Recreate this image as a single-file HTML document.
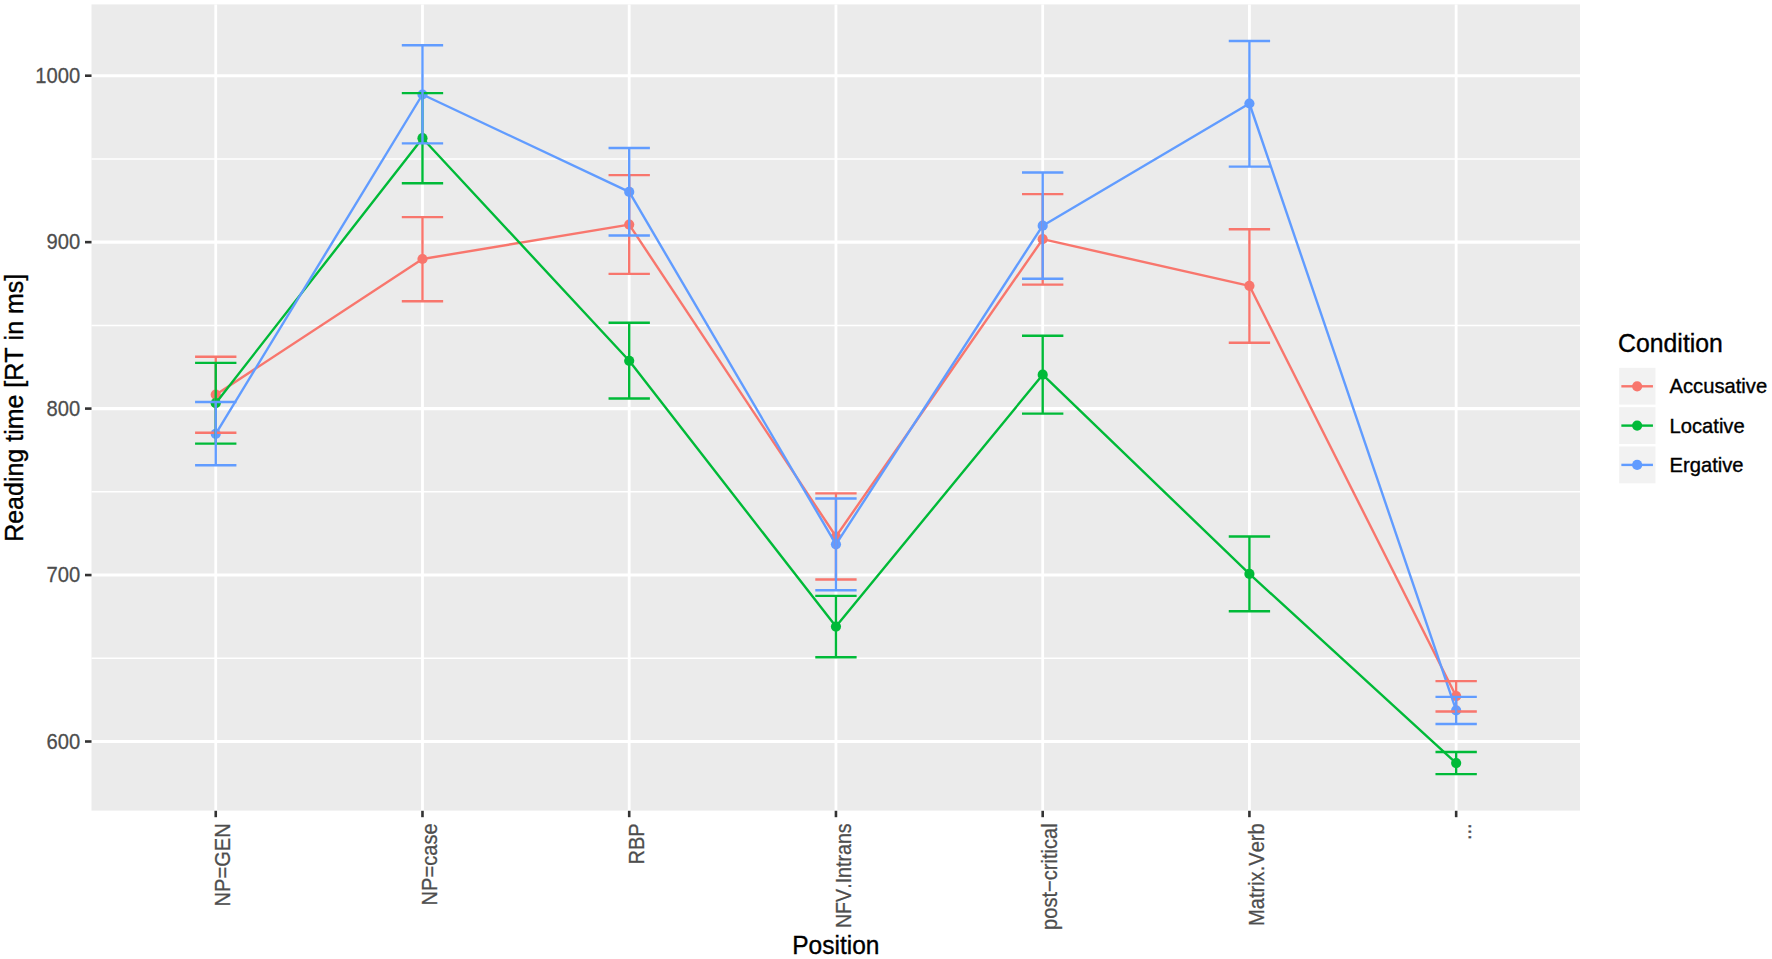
<!DOCTYPE html>
<html lang="en"><head><meta charset="utf-8"><title>Reading time by position</title>
<style>html,body{margin:0;padding:0;background:#fff;}svg{display:block;}text{font-family:"Liberation Sans",Arial,Helvetica,sans-serif;font-kerning:none;}</style></head><body>
<svg width="1772" height="959" viewBox="0 0 1772 959">
<rect x="0" y="0" width="1772" height="959" fill="#ffffff"/>
<rect x="91.5" y="4.4" width="1488.5" height="806.2" fill="#EBEBEB"/>
<g stroke="#ffffff" stroke-width="1.5" fill="none">
<line x1="91.5" x2="1580.0" y1="158.93" y2="158.93"/>
<line x1="91.5" x2="1580.0" y1="325.38" y2="325.38"/>
<line x1="91.5" x2="1580.0" y1="491.82" y2="491.82"/>
<line x1="91.5" x2="1580.0" y1="658.27" y2="658.27"/>
</g>
<g stroke="#ffffff" stroke-width="3.1" fill="none">
<line x1="91.5" x2="1580.0" y1="75.70" y2="75.70"/>
<line x1="91.5" x2="1580.0" y1="242.15" y2="242.15"/>
<line x1="91.5" x2="1580.0" y1="408.60" y2="408.60"/>
<line x1="91.5" x2="1580.0" y1="575.05" y2="575.05"/>
<line x1="91.5" x2="1580.0" y1="741.50" y2="741.50"/>
</g>
<g stroke="#ffffff" stroke-width="2.8" fill="none">
<line x1="215.74" x2="215.74" y1="4.4" y2="810.6"/>
<line x1="422.48" x2="422.48" y1="4.4" y2="810.6"/>
<line x1="629.21" x2="629.21" y1="4.4" y2="810.6"/>
<line x1="835.95" x2="835.95" y1="4.4" y2="810.6"/>
<line x1="1042.69" x2="1042.69" y1="4.4" y2="810.6"/>
<line x1="1249.42" x2="1249.42" y1="4.4" y2="810.6"/>
<line x1="1456.16" x2="1456.16" y1="4.4" y2="810.6"/>
</g>
<g fill="#F8766D">
<circle cx="215.74" cy="394.7" r="5.1"/>
<circle cx="422.48" cy="259.0" r="5.1"/>
<circle cx="629.21" cy="224.6" r="5.1"/>
<circle cx="835.95" cy="536.5" r="5.1"/>
<circle cx="1042.69" cy="239.2" r="5.1"/>
<circle cx="1249.42" cy="285.8" r="5.1"/>
<circle cx="1456.16" cy="696.2" r="5.1"/>
</g>
<g fill="#00BA38">
<circle cx="215.74" cy="403.2" r="5.1"/>
<circle cx="422.48" cy="138.2" r="5.1"/>
<circle cx="629.21" cy="360.8" r="5.1"/>
<circle cx="835.95" cy="626.6" r="5.1"/>
<circle cx="1042.69" cy="374.7" r="5.1"/>
<circle cx="1249.42" cy="573.9" r="5.1"/>
<circle cx="1456.16" cy="763.1" r="5.1"/>
</g>
<g fill="#619CFF">
<circle cx="215.74" cy="433.8" r="5.1"/>
<circle cx="422.48" cy="94.5" r="5.1"/>
<circle cx="629.21" cy="191.9" r="5.1"/>
<circle cx="835.95" cy="544.3" r="5.1"/>
<circle cx="1042.69" cy="225.7" r="5.1"/>
<circle cx="1249.42" cy="103.5" r="5.1"/>
<circle cx="1456.16" cy="710.4" r="5.1"/>
</g>
<polyline points="215.74,394.7 422.48,259.0 629.21,224.6 835.95,536.5 1042.69,239.2 1249.42,285.8 1456.16,696.2" fill="none" stroke="#F8766D" stroke-width="2.4" stroke-linejoin="round"/>
<polyline points="215.74,403.2 422.48,138.2 629.21,360.8 835.95,626.6 1042.69,374.7 1249.42,573.9 1456.16,763.1" fill="none" stroke="#00BA38" stroke-width="2.4" stroke-linejoin="round"/>
<polyline points="215.74,433.8 422.48,94.5 629.21,191.9 835.95,544.3 1042.69,225.7 1249.42,103.5 1456.16,710.4" fill="none" stroke="#619CFF" stroke-width="2.4" stroke-linejoin="round"/>
<g stroke="#F8766D" stroke-width="2.4" fill="none">
<path d="M195.07 356.8H236.42M215.74 356.8V432.8M195.07 432.8H236.42"/>
<path d="M401.80 217.1H443.15M422.48 217.1V301.2M401.80 301.2H443.15"/>
<path d="M608.54 175.1H649.89M629.21 175.1V273.9M608.54 273.9H649.89"/>
<path d="M815.28 493.4H856.62M835.95 493.4V579.5M815.28 579.5H856.62"/>
<path d="M1022.01 194.1H1063.36M1042.69 194.1V284.6M1022.01 284.6H1063.36"/>
<path d="M1228.75 229.2H1270.10M1249.42 229.2V342.7M1228.75 342.7H1270.10"/>
<path d="M1435.48 681.1H1476.83M1456.16 681.1V711.5M1435.48 711.5H1476.83"/>
</g>
<g stroke="#00BA38" stroke-width="2.4" fill="none">
<path d="M195.07 362.9H236.42M215.74 362.9V443.6M195.07 443.6H236.42"/>
<path d="M401.80 93.1H443.15M422.48 93.1V183.3M401.80 183.3H443.15"/>
<path d="M608.54 322.8H649.89M629.21 322.8V398.5M608.54 398.5H649.89"/>
<path d="M815.28 595.9H856.62M835.95 595.9V657.2M815.28 657.2H856.62"/>
<path d="M1022.01 335.7H1063.36M1042.69 335.7V413.6M1022.01 413.6H1063.36"/>
<path d="M1228.75 536.5H1270.10M1249.42 536.5V611.2M1228.75 611.2H1270.10"/>
<path d="M1435.48 752.0H1476.83M1456.16 752.0V774.1M1435.48 774.1H1476.83"/>
</g>
<g stroke="#619CFF" stroke-width="2.4" fill="none">
<path d="M195.07 402.0H236.42M215.74 402.0V465.3M195.07 465.3H236.42"/>
<path d="M401.80 45.3H443.15M422.48 45.3V143.4M401.80 143.4H443.15"/>
<path d="M608.54 148.0H649.89M629.21 148.0V235.5M608.54 235.5H649.89"/>
<path d="M815.28 498.5H856.62M835.95 498.5V590.2M815.28 590.2H856.62"/>
<path d="M1022.01 172.5H1063.36M1042.69 172.5V278.8M1022.01 278.8H1063.36"/>
<path d="M1228.75 41.0H1270.10M1249.42 41.0V166.6M1228.75 166.6H1270.10"/>
<path d="M1435.48 696.9H1476.83M1456.16 696.9V724.0M1435.48 724.0H1476.83"/>
</g>
<g stroke="#333333" stroke-width="2.6" fill="none">
<line x1="85.0" x2="91.5" y1="75.70" y2="75.70"/>
<line x1="85.0" x2="91.5" y1="242.15" y2="242.15"/>
<line x1="85.0" x2="91.5" y1="408.60" y2="408.60"/>
<line x1="85.0" x2="91.5" y1="575.05" y2="575.05"/>
<line x1="85.0" x2="91.5" y1="741.50" y2="741.50"/>
<line x1="215.74" x2="215.74" y1="810.8000000000001" y2="817.2"/>
<line x1="422.48" x2="422.48" y1="810.8000000000001" y2="817.2"/>
<line x1="629.21" x2="629.21" y1="810.8000000000001" y2="817.2"/>
<line x1="835.95" x2="835.95" y1="810.8000000000001" y2="817.2"/>
<line x1="1042.69" x2="1042.69" y1="810.8000000000001" y2="817.2"/>
<line x1="1249.42" x2="1249.42" y1="810.8000000000001" y2="817.2"/>
<line x1="1456.16" x2="1456.16" y1="810.8000000000001" y2="817.2"/>
</g>
<g fill="#4D4D4D" stroke="#4D4D4D" stroke-width="0.25" font-size="20.2" text-anchor="end">
<text transform="translate(80.2,82.80) scale(1,1.085)">1000</text>
<text transform="translate(80.2,249.25) scale(1,1.085)">900</text>
<text transform="translate(80.2,415.70) scale(1,1.085)">800</text>
<text transform="translate(80.2,582.15) scale(1,1.085)">700</text>
<text transform="translate(80.2,748.60) scale(1,1.085)">600</text>
</g>
<g fill="#4D4D4D" stroke="#4D4D4D" stroke-width="0.25" font-size="20.1" text-anchor="end">
<text transform="translate(230.44,823.3) rotate(-90) scale(1,1.09)">NP=GEN</text>
<text transform="translate(437.18,823.3) rotate(-90) scale(1,1.09)">NP=case</text>
<text transform="translate(643.91,823.3) rotate(-90) scale(1,1.09)">RBP</text>
<text transform="translate(850.65,823.3) rotate(-90) scale(1,1.09)" font-size="19.65">NFV.Intrans</text>
<text transform="translate(1057.39,823.3) rotate(-90) scale(1,1.09)">post−critical</text>
<text transform="translate(1264.12,823.3) rotate(-90) scale(1,1.09)">Matrix.Verb</text>
<text transform="translate(1470.86,823.3) rotate(-90) scale(1,1.09)">...</text>
</g>
<g fill="#000" stroke="#000" stroke-width="0.35" text-anchor="middle">
<text transform="translate(835.85,954.3) scale(1,1.036)" font-size="24.5">Position</text>
<text transform="translate(23.1,407.80) rotate(-90) scale(1,1.05)" font-size="25">Reading time [RT in ms]</text>
</g>
<g fill="#000" stroke="#000" stroke-width="0.35">
<text transform="translate(1618.1,352) scale(1,1.055)" font-size="24.8">Condition</text>
<text transform="translate(1669.5,393.20) scale(1,1.04)" font-size="20.2">Accusative</text>
<text transform="translate(1669.5,432.50) scale(1,1.04)" font-size="20.2">Locative</text>
<text transform="translate(1669.5,471.80) scale(1,1.04)" font-size="20.2">Ergative</text>
</g>
<rect x="1618.0" y="366.65" width="38.7" height="39.3" fill="#F2F2F2" stroke="#ffffff" stroke-width="2.4"/>
<circle cx="1637.15" cy="386.30" r="5.1" fill="#F8766D"/>
<line x1="1621.35" x2="1652.95" y1="386.30" y2="386.30" stroke="#F8766D" stroke-width="2.4"/>
<rect x="1618.0" y="405.95" width="38.7" height="39.3" fill="#F2F2F2" stroke="#ffffff" stroke-width="2.4"/>
<circle cx="1637.15" cy="425.60" r="5.1" fill="#00BA38"/>
<line x1="1621.35" x2="1652.95" y1="425.60" y2="425.60" stroke="#00BA38" stroke-width="2.4"/>
<rect x="1618.0" y="445.25" width="38.7" height="39.3" fill="#F2F2F2" stroke="#ffffff" stroke-width="2.4"/>
<circle cx="1637.15" cy="464.90" r="5.1" fill="#619CFF"/>
<line x1="1621.35" x2="1652.95" y1="464.90" y2="464.90" stroke="#619CFF" stroke-width="2.4"/>
</svg></body></html>
